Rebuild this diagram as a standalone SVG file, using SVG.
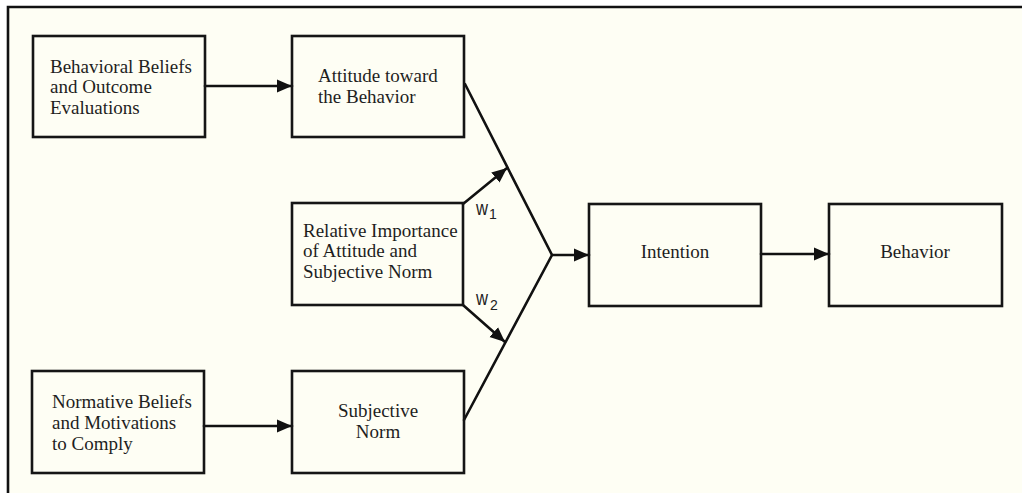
<svg xmlns="http://www.w3.org/2000/svg" width="1022" height="493" viewBox="0 0 1022 493">
  <style>
    .box { fill: none; stroke: #151515; stroke-width: 2.6; }
    .lbl { font-family: "Liberation Serif", "Times New Roman", serif; font-size: 19px; fill: #1e1e1e; }
    .mid { text-anchor: middle; }
    .wt { font-family: "Liberation Sans", Arial, sans-serif; font-size: 20px; fill: #222; }
    .ws { font-family: "Liberation Sans", Arial, sans-serif; font-size: 14px; fill: #222; }
    .edge { fill: none; stroke: #111; stroke-width: 2.6; stroke-linecap: round; }
  </style>
  <defs>
    <marker id="head" markerUnits="userSpaceOnUse" markerWidth="16" markerHeight="14" refX="15" refY="7" orient="auto">
      <path d="M0,0.5 L15,7 L0,13.5 Z" fill="#111"/>
    </marker>
  </defs>

  <!-- page and frame -->
  <rect x="0" y="0" width="1022" height="493" fill="#ffffff"/>
  <rect x="8" y="7" width="1014" height="486" fill="#fefef4"/>
  <path d="M8,493 L8,7 L1022,7" fill="none" stroke="#111" stroke-width="2.6"/>

  <!-- connectors -->
  <g id="connectors">
    <line class="edge" x1="205" y1="86" x2="292" y2="86" marker-end="url(#head)"/>
    <line class="edge" x1="204" y1="426" x2="292" y2="426" marker-end="url(#head)"/>
    <polyline class="edge" points="465,84 552,255 464,420"/>
    <line class="edge" x1="552" y1="255" x2="589" y2="255" marker-end="url(#head)"/>
    <line class="edge" x1="761" y1="254" x2="829" y2="254" marker-end="url(#head)"/>
    <line class="edge" x1="463" y1="204" x2="507" y2="168" marker-end="url(#head)"/>
    <line class="edge" x1="463" y1="305" x2="505" y2="342" marker-end="url(#head)"/>
    <!-- weights -->
    <text class="wt" x="476" y="215" textLength="12" lengthAdjust="spacingAndGlyphs">w</text>
    <text class="ws" x="489" y="219">1</text>
    <text class="wt" x="476" y="305" textLength="12" lengthAdjust="spacingAndGlyphs">w</text>
    <text class="ws" x="490" y="310">2</text>
  </g>

  <g id="behavioral-beliefs">
    <rect class="box" x="33" y="36" width="172" height="101"/>
    <text class="lbl" x="50" y="73">Behavioral Beliefs</text>
    <text class="lbl" x="50" y="93">and Outcome</text>
    <text class="lbl" x="50" y="114">Evaluations</text>
  </g>

  <g id="attitude">
    <rect class="box" x="292" y="36" width="172" height="101"/>
    <text class="lbl" x="318" y="82">Attitude toward</text>
    <text class="lbl" x="318" y="103">the Behavior</text>
  </g>

  <g id="relative-importance">
    <rect class="box" x="292" y="203" width="171" height="102"/>
    <text class="lbl" x="303" y="237">Relative Importance</text>
    <text class="lbl" x="303" y="257">of Attitude and</text>
    <text class="lbl" x="303" y="278">Subjective Norm</text>
  </g>

  <g id="normative-beliefs">
    <rect class="box" x="32" y="371" width="172" height="102"/>
    <text class="lbl" x="52" y="408">Normative Beliefs</text>
    <text class="lbl" x="52" y="429">and Motivations</text>
    <text class="lbl" x="52" y="450">to Comply</text>
  </g>

  <g id="subjective-norm">
    <rect class="box" x="292" y="371" width="172" height="102"/>
    <text class="lbl mid" x="378" y="417">Subjective</text>
    <text class="lbl mid" x="378" y="438">Norm</text>
  </g>

  <g id="intention">
    <rect class="box" x="589" y="204" width="172" height="102"/>
    <text class="lbl mid" x="675" y="258">Intention</text>
  </g>

  <g id="behavior">
    <rect class="box" x="829" y="204" width="173" height="102"/>
    <text class="lbl mid" x="915" y="258">Behavior</text>
  </g>
</svg>
